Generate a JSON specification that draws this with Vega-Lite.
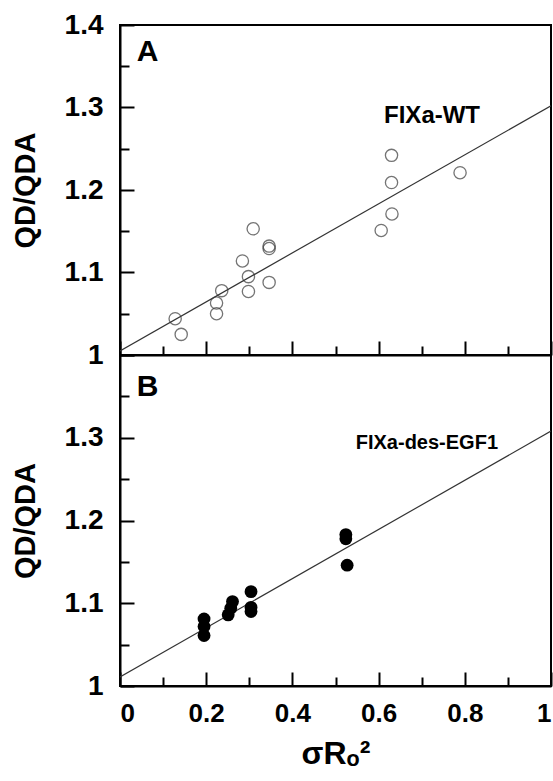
{
  "$schema": "https://vega.github.io/schema/vega-lite/v6.json",
  "padding": {"left": 10, "top": 10, "right": 2, "bottom": 4},
  "spacing": 0,
  "bounds": "flush",
  "datasets": {
    "wt": [
      {"s": 0.128, "q": 1.044}, {"s": 0.142, "q": 1.025}, {"s": 0.224, "q": 1.063},
      {"s": 0.224, "q": 1.050}, {"s": 0.236, "q": 1.078}, {"s": 0.284, "q": 1.114},
      {"s": 0.298, "q": 1.095}, {"s": 0.298, "q": 1.077}, {"s": 0.309, "q": 1.153},
      {"s": 0.346, "q": 1.132}, {"s": 0.346, "q": 1.129}, {"s": 0.346, "q": 1.088},
      {"s": 0.606, "q": 1.151}, {"s": 0.631, "q": 1.171}, {"s": 0.630, "q": 1.209},
      {"s": 0.630, "q": 1.242}, {"s": 0.789, "q": 1.221}
    ],
    "des": [
      {"s": 0.195, "q": 1.081}, {"s": 0.195, "q": 1.072}, {"s": 0.195, "q": 1.061},
      {"s": 0.251, "q": 1.086}, {"s": 0.257, "q": 1.094}, {"s": 0.261, "q": 1.102},
      {"s": 0.304, "q": 1.114}, {"s": 0.304, "q": 1.095}, {"s": 0.304, "q": 1.090},
      {"s": 0.524, "q": 1.183}, {"s": 0.524, "q": 1.178}, {"s": 0.527, "q": 1.146}
    ],
    "fitA": [{"s": 0, "q": 1.005}, {"s": 1, "q": 1.302}],
    "fitB": [{"s": 0, "q": 1.011}, {"s": 1, "q": 1.308}],
    "panA": [{"s": 0.039, "q": 1.356, "t": "A"}],
    "panB": [{"s": 0.039, "q": 1.351, "t": "B"}],
    "nameA": [{"s": 0.724, "q": 1.281, "t": "FIXa-WT"}],
    "nameB": [{"s": 0.712, "q": 1.287, "t": "FIXa-des-EGF1"}]
  },
  "config": {
    "view": {"stroke": "black", "strokeWidth": 2},
    "font": "Liberation Sans",
    "axis": {
      "domainColor": "black", "domainWidth": 2,
      "tickColor": "black", "tickWidth": 2, "zindex": 2,
      "labelFont": "Liberation Sans", "labelFontWeight": "bold", "labelColor": "black",
      "titleFont": "Liberation Sans", "titleFontWeight": "bold", "titleColor": "black",
      "grid": false
    }
  },
  "vconcat": [
    {
      "width": 431, "height": 330,
      "resolve": {"axis": {"x": "independent", "y": "independent"}},
      "layer": [
        {
          "data": {"name": "fitA"},
          "mark": {"type": "line", "color": "#333", "strokeWidth": 1.2, "clip": true},
          "encoding": {
            "x": {"field": "s", "type": "quantitative", "scale": {"domain": [0, 1], "nice": false},
              "axis": {"orient": "bottom", "values": [0, 0.2, 0.4, 0.6, 0.8, 1], "labels": false, "ticks": false, "title": null}},
            "y": {"field": "q", "type": "quantitative", "scale": {"domain": [1, 1.4], "nice": false, "zero": false},
              "axis": {"orient": "left", "values": [1, 1.1, 1.2, 1.3, 1.4], "format": "~g", "ticks": false,
                "labelFontSize": 28, "labelPadding": 17, "title": "QD/QDA", "titleFontSize": 29, "titlePadding": 24}}
          }
        },
        {
          "data": {"name": "wt"},
          "mark": {"type": "point", "shape": "circle", "filled": false, "stroke": "#3a3a3a", "strokeWidth": 1.3, "size": 150},
          "encoding": {
            "x": {"field": "s", "type": "quantitative", "axis": null},
            "y": {"field": "q", "type": "quantitative", "axis": null}
          }
        },
        {
          "data": {"name": "panA"},
          "mark": {"type": "text", "fontWeight": "bold", "align": "left", "baseline": "alphabetic", "color": "black", "fontSize": 30},
          "encoding": {
            "x": {"field": "s", "type": "quantitative",
              "axis": {"orient": "bottom", "values": [0.1, 0.3, 0.5, 0.7, 0.9], "labels": false, "title": null, "domain": false, "tickSize": 9, "offset": -9}},
            "y": {"field": "q", "type": "quantitative",
              "axis": {"orient": "left", "values": [1.05, 1.15, 1.25, 1.35], "labels": false, "title": null, "domain": false, "tickSize": 9, "offset": -9}},
            "text": {"field": "t"}
          }
        },
        {
          "data": {"name": "nameA"},
          "mark": {"type": "text", "fontWeight": "bold", "align": "center", "baseline": "alphabetic", "color": "black", "fontSize": 24},
          "encoding": {
            "x": {"field": "s", "type": "quantitative",
              "axis": {"orient": "bottom", "values": [0, 0.2, 0.4, 0.6, 0.8, 1], "labels": false, "title": null, "domain": false, "tickSize": 14, "offset": -14}},
            "y": {"field": "q", "type": "quantitative",
              "axis": {"orient": "left", "values": [1, 1.1, 1.2, 1.3, 1.4], "labels": false, "title": null, "domain": false, "tickSize": 14, "offset": -14}},
            "text": {"field": "t"}
          }
        }
      ]
    },
    {
      "width": 431, "height": 331,
      "resolve": {"axis": {"x": "independent", "y": "independent"}},
      "layer": [
        {
          "data": {"name": "fitB"},
          "mark": {"type": "line", "color": "#333", "strokeWidth": 1.2, "clip": true},
          "encoding": {
            "x": {"field": "s", "type": "quantitative", "scale": {"domain": [0, 1], "nice": false},
              "axis": {"orient": "bottom", "values": [0, 0.2, 0.4, 0.6, 0.8, 1], "format": "~g", "ticks": false,
                "labelFontSize": 26, "labelPadding": 14, "title": "σRₒ²", "titleFontSize": 32, "titlePadding": 12}},
            "y": {"field": "q", "type": "quantitative", "scale": {"domain": [1, 1.4], "nice": false, "zero": false},
              "axis": {"orient": "left", "values": [1, 1.1, 1.2, 1.3], "format": "~g", "ticks": false,
                "labelFontSize": 28, "labelPadding": 17, "title": "QD/QDA", "titleFontSize": 29, "titlePadding": 24}}
          }
        },
        {
          "data": {"name": "des"},
          "mark": {"type": "point", "shape": "circle", "filled": true, "color": "black", "opacity": 1, "size": 165},
          "encoding": {
            "x": {"field": "s", "type": "quantitative", "axis": null},
            "y": {"field": "q", "type": "quantitative", "axis": null}
          }
        },
        {
          "data": {"name": "panB"},
          "mark": {"type": "text", "fontWeight": "bold", "align": "left", "baseline": "alphabetic", "color": "black", "fontSize": 30},
          "encoding": {
            "x": {"field": "s", "type": "quantitative",
              "axis": {"orient": "bottom", "values": [0.1, 0.3, 0.5, 0.7, 0.9], "labels": false, "title": null, "domain": false, "tickSize": 9, "offset": -9}},
            "y": {"field": "q", "type": "quantitative",
              "axis": {"orient": "left", "values": [1.05, 1.15, 1.25, 1.35], "labels": false, "title": null, "domain": false, "tickSize": 9, "offset": -9}},
            "text": {"field": "t"}
          }
        },
        {
          "data": {"name": "nameB"},
          "mark": {"type": "text", "fontWeight": "bold", "align": "center", "baseline": "alphabetic", "color": "black", "fontSize": 20},
          "encoding": {
            "x": {"field": "s", "type": "quantitative",
              "axis": {"orient": "bottom", "values": [0, 0.2, 0.4, 0.6, 0.8, 1], "labels": false, "title": null, "domain": false, "tickSize": 14, "offset": -14}},
            "y": {"field": "q", "type": "quantitative",
              "axis": {"orient": "left", "values": [1, 1.1, 1.2, 1.3, 1.4], "labels": false, "title": null, "domain": false, "tickSize": 14, "offset": -14}},
            "text": {"field": "t"}
          }
        }
      ]
    }
  ]
}
